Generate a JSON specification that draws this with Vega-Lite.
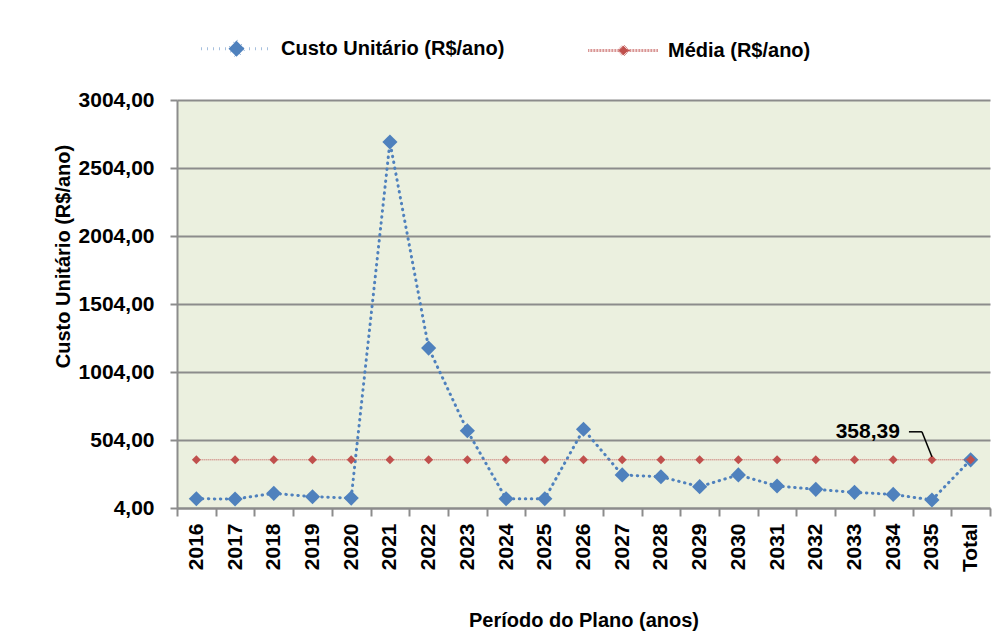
{
  "$schema": "https://vega.github.io/schema/vega-lite/v6.json",
  "width": 813,
  "height": 408,
  "autosize": {"type": "none"},
  "padding": {"left": 177, "top": 100, "right": 18, "bottom": 129},
  "background": "white",
  "config": {
    "font": "Liberation Sans, Arial, sans-serif",
    "locale": {"number": {"decimal": ",", "thousands": ".", "grouping": [3], "currency": ["R$", ""]}},
    "view": {"fill": "#EBF0DF", "stroke": null},
    "legend": {
      "title": null,
      "orient": "none",
      "legendX": 42,
      "legendY": -69,
      "direction": "horizontal",
      "padding": 0,
      "symbolSize": 1024,
      "symbolStrokeWidth": 3,
      "labelOffset": 27,
      "columnPadding": 77,
      "labelFontSize": 20,
      "labelFont": "Liberation Sans, Arial, sans-serif",
      "labelFontWeight": "bold",
      "labelColor": "black",
      "labelLimit": 400
    },
    "axis": {
      "labelFont": "Liberation Sans, Arial, sans-serif",
      "titleFont": "Liberation Sans, Arial, sans-serif",
      "labelFontWeight": "bold",
      "titleFontWeight": "bold",
      "labelColor": "black",
      "titleColor": "black",
      "labelFontSize": 21,
      "titleFontSize": 20,
      "domainColor": "#8C8C8C",
      "domainWidth": 2,
      "tickColor": "#8C8C8C",
      "tickWidth": 2,
      "tickSize": 7,
      "gridColor": "#8C8C8C",
      "gridWidth": 2
    }
  },
  "data": {
    "values": [
      {"ano": "2016", "serie": "Custo Unitário (R$/ano)", "valor": 72},
      {"ano": "2017", "serie": "Custo Unitário (R$/ano)", "valor": 70},
      {"ano": "2018", "serie": "Custo Unitário (R$/ano)", "valor": 112},
      {"ano": "2019", "serie": "Custo Unitário (R$/ano)", "valor": 87},
      {"ano": "2020", "serie": "Custo Unitário (R$/ano)", "valor": 77},
      {"ano": "2021", "serie": "Custo Unitário (R$/ano)", "valor": 2695},
      {"ano": "2022", "serie": "Custo Unitário (R$/ano)", "valor": 1180},
      {"ano": "2023", "serie": "Custo Unitário (R$/ano)", "valor": 572},
      {"ano": "2024", "serie": "Custo Unitário (R$/ano)", "valor": 72},
      {"ano": "2025", "serie": "Custo Unitário (R$/ano)", "valor": 72},
      {"ano": "2026", "serie": "Custo Unitário (R$/ano)", "valor": 583},
      {"ano": "2027", "serie": "Custo Unitário (R$/ano)", "valor": 247},
      {"ano": "2028", "serie": "Custo Unitário (R$/ano)", "valor": 234},
      {"ano": "2029", "serie": "Custo Unitário (R$/ano)", "valor": 161},
      {"ano": "2030", "serie": "Custo Unitário (R$/ano)", "valor": 247},
      {"ano": "2031", "serie": "Custo Unitário (R$/ano)", "valor": 166},
      {"ano": "2032", "serie": "Custo Unitário (R$/ano)", "valor": 141},
      {"ano": "2033", "serie": "Custo Unitário (R$/ano)", "valor": 119},
      {"ano": "2034", "serie": "Custo Unitário (R$/ano)", "valor": 104},
      {"ano": "2035", "serie": "Custo Unitário (R$/ano)", "valor": 63},
      {"ano": "Total", "serie": "Custo Unitário (R$/ano)", "valor": 358.39},
      {"ano": "2016", "serie": "Média (R$/ano)", "valor": 358.39},
      {"ano": "2017", "serie": "Média (R$/ano)", "valor": 358.39},
      {"ano": "2018", "serie": "Média (R$/ano)", "valor": 358.39},
      {"ano": "2019", "serie": "Média (R$/ano)", "valor": 358.39},
      {"ano": "2020", "serie": "Média (R$/ano)", "valor": 358.39},
      {"ano": "2021", "serie": "Média (R$/ano)", "valor": 358.39},
      {"ano": "2022", "serie": "Média (R$/ano)", "valor": 358.39},
      {"ano": "2023", "serie": "Média (R$/ano)", "valor": 358.39},
      {"ano": "2024", "serie": "Média (R$/ano)", "valor": 358.39},
      {"ano": "2025", "serie": "Média (R$/ano)", "valor": 358.39},
      {"ano": "2026", "serie": "Média (R$/ano)", "valor": 358.39},
      {"ano": "2027", "serie": "Média (R$/ano)", "valor": 358.39},
      {"ano": "2028", "serie": "Média (R$/ano)", "valor": 358.39},
      {"ano": "2029", "serie": "Média (R$/ano)", "valor": 358.39},
      {"ano": "2030", "serie": "Média (R$/ano)", "valor": 358.39},
      {"ano": "2031", "serie": "Média (R$/ano)", "valor": 358.39},
      {"ano": "2032", "serie": "Média (R$/ano)", "valor": 358.39},
      {"ano": "2033", "serie": "Média (R$/ano)", "valor": 358.39},
      {"ano": "2034", "serie": "Média (R$/ano)", "valor": 358.39},
      {"ano": "2035", "serie": "Média (R$/ano)", "valor": 358.39},
      {"ano": "Total", "serie": "Média (R$/ano)", "valor": 358.39}
    ]
  },
  "encoding": {
    "x": {
      "field": "ano",
      "type": "ordinal",
      "sort": null,
      "title": "Período do Plano (anos)",
      "scale": {"type": "band", "paddingInner": 0, "paddingOuter": 0},
      "axis": {
        "grid": false,
        "labelAngle": -90,
        "labelPadding": 7,
        "tickBand": "extent",
        "tickSize": 8,
        "titleY": 118,
        "titleBaseline": "alphabetic"
      }
    },
    "y": {
      "field": "valor",
      "type": "quantitative",
      "title": "Custo Unitário  (R$/ano)",
      "scale": {"domain": [4, 3004], "nice": false, "zero": false},
      "axis": {
        "values": [4, 504, 1004, 1504, 2004, 2504, 3004],
        "format": ".2f",
        "grid": true,
        "labelPadding": 16,
        "titleX": -114,
        "titleY": 156,
        "titleAlign": "center",
        "titleBaseline": "middle"
      }
    }
  },
  "layer": [
    {
      "transform": [{"filter": "datum.serie === 'Custo Unitário (R$/ano)'"}],
      "mark": {"type": "line", "color": "#4F81BD", "strokeWidth": 3, "strokeDash": [0.5, 5.5], "strokeCap": "round"}
    },
    {
      "transform": [{"filter": "datum.serie === 'Custo Unitário (R$/ano)'"}],
      "mark": {"type": "point", "shape": "diamond", "filled": true, "size": 230, "opacity": 1, "color": "#4F81BD"}
    },
    {
      "transform": [{"filter": "datum.serie === 'Média (R$/ano)'"}],
      "mark": {"type": "line", "color": "#C0504D", "strokeWidth": 1, "strokeDash": [1, 1]}
    },
    {
      "transform": [{"filter": "datum.serie === 'Média (R$/ano)'"}],
      "mark": {"type": "point", "shape": "diamond", "filled": true, "size": 80, "opacity": 1, "color": "#C0504D"}
    },
    {
      "transform": [{"filter": "false"}],
      "mark": {"type": "point", "filled": true, "opacity": 1, "strokeCap": "round"},
      "encoding": {
        "fill": {
          "field": "serie",
          "type": "nominal",
          "scale": {"domain": ["Custo Unitário (R$/ano)", "Média (R$/ano)"], "range": ["#4F81BD", "#C0504D"]}
        },
        "stroke": {
          "field": "serie",
          "type": "nominal",
          "scale": {"domain": ["Custo Unitário (R$/ano)", "Média (R$/ano)"], "range": ["#4F81BD", "#C0504D"]}
        },
        "shape": {
          "field": "serie",
          "type": "nominal",
          "scale": {
            "domain": ["Custo Unitário (R$/ano)", "Média (R$/ano)"],
            "range": ["M-2.2,0H2.2M0,-0.5L0.5,0L0,0.5L-0.5,0Z", "M-2.2,0H2.2M0,-0.28L0.28,0L0,0.28L-0.28,0Z"]
          }
        },
        "strokeDash": {
          "field": "serie",
          "type": "nominal",
          "scale": {"domain": ["Custo Unitário (R$/ano)", "Média (R$/ano)"], "range": [[0.5, 5.5], [0.6, 0.9]]}
        }
      }
    },
    {
      "transform": [{"filter": "datum.serie === 'Média (R$/ano)' && datum.ano === '2035'"}],
      "mark": {
        "type": "text",
        "align": "right",
        "baseline": "middle",
        "dx": -32,
        "dy": -28,
        "fontSize": 21,
        "fontWeight": "bold",
        "font": "Liberation Sans, Arial, sans-serif",
        "color": "black"
      },
      "encoding": {"text": {"field": "valor", "type": "quantitative", "format": ".2f"}}
    },
    {
      "transform": [{"filter": "datum.serie === 'Média (R$/ano)' && datum.ano === '2035'"}],
      "mark": {"type": "rule", "color": "black", "strokeWidth": 1.5, "yOffset": -3, "x2Offset": -10, "y2Offset": -28},
      "encoding": {"x2": {"field": "ano"}, "y2": {"field": "valor"}}
    },
    {
      "transform": [{"filter": "datum.serie === 'Média (R$/ano)' && datum.ano === '2035'"}],
      "mark": {"type": "rule", "color": "black", "strokeWidth": 1.5, "xOffset": -10, "yOffset": -28, "x2Offset": -23, "y2Offset": -28},
      "encoding": {"x2": {"field": "ano"}, "y2": {"field": "valor"}}
    }
  ]
}
